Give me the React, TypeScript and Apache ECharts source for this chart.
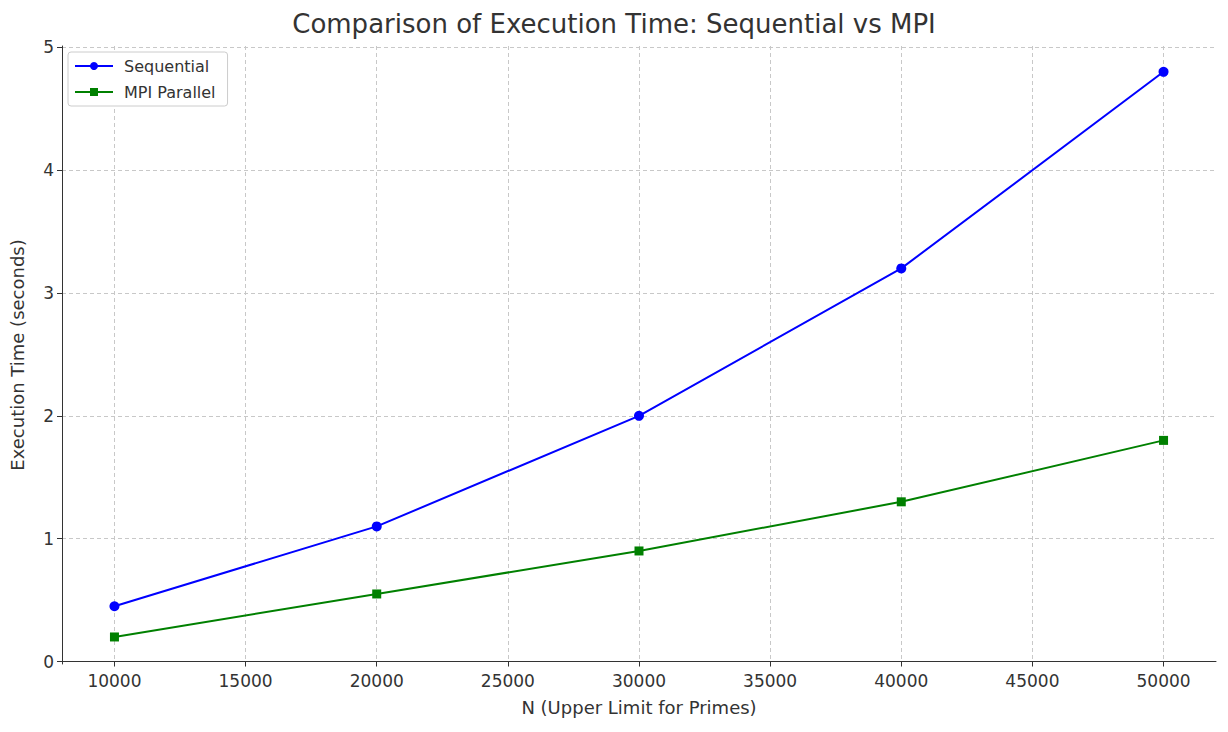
import * as echarts from "echarts";
import { useEffect, useRef } from "react";

const nValues = [10000, 20000, 30000, 40000, 50000];
const sequential = [0.45, 1.1, 2.0, 3.2, 4.8];
const mpiParallel = [0.2, 0.55, 0.9, 1.3, 1.8];
const xTicks = [10000, 15000, 20000, 25000, 30000, 35000, 40000, 45000, 50000];
const yTicks = [0, 1, 2, 3, 4, 5];

const font = "DejaVu Sans";
const gridLine = { show: true, lineStyle: { color: "#c8c8c8", type: [4, 3] as number[], width: 1 } };

const App = () => {
	const chartRef = useRef<HTMLDivElement>(null);

	useEffect(() => {
		const chart = echarts.init(chartRef.current!, null, { renderer: "svg" });
		chart.setOption({
			animation: false,
			textStyle: { fontFamily: font },
			title: {
				text: "Comparison of Execution Time: Sequential vs MPI",
				left: "center",
				top: 6,
				textStyle: { fontSize: 26, fontWeight: "normal", color: "#333", fontFamily: font }
			},
			legend: {
				left: 68,
				top: 52,
				orient: "vertical",
				backgroundColor: "#fff",
				borderColor: "#ccc",
				borderWidth: 1,
				borderRadius: 3,
				padding: [6, 12, 6, 6],
				itemGap: 10,
				itemWidth: 38,
				itemHeight: 10,
				textStyle: { fontSize: 16, color: "#333", padding: [0, 0, 0, 6] },
				data: ["Sequential", "MPI Parallel"]
			},
			grid: { left: 58, right: 12, top: 46, bottom: 68 },
			xAxis: {
				type: "value",
				min: 8000,
				max: 52000,
				name: "N (Upper Limit for Primes)",
				nameLocation: "middle",
				nameGap: 34,
				nameTextStyle: { fontSize: 18, color: "#333" },
				axisLine: { show: true, lineStyle: { color: "#333" } },
				axisTick: { show: true, customValues: xTicks, length: 5, lineStyle: { color: "#333" } },
				axisLabel: { customValues: xTicks, formatter: (v: number) => String(v), fontSize: 17, color: "#333", margin: 8 },
				splitLine: gridLine
			},
			yAxis: {
				type: "value",
				min: -0.02,
				max: 5.01,
				name: "Execution Time (seconds)",
				nameLocation: "middle",
				nameGap: 36,
				nameTextStyle: { fontSize: 18, color: "#333" },
				axisLine: { show: true, lineStyle: { color: "#333" } },
				axisTick: { show: true, customValues: yTicks, length: 5, lineStyle: { color: "#333" } },
				axisLabel: { customValues: yTicks, fontSize: 17, color: "#333", margin: 8 },
				splitLine: gridLine
			},
			series: [
				{
					name: "Sequential",
					type: "line",
					data: nValues.map((n, i) => [n, sequential[i]]),
					color: "#0000ff",
					symbol: "circle",
					symbolSize: 10,
					lineStyle: { width: 2 }
				},
				{
					name: "MPI Parallel",
					type: "line",
					data: nValues.map((n, i) => [n, mpiParallel[i]]),
					color: "#008000",
					symbol: "rect",
					symbolSize: 9,
					lineStyle: { width: 2 }
				}
			]
		});
		return () => {
			chart.dispose();
		};
	}, []);

	return (
		<div
			ref={chartRef}
			style={{ position: "fixed", left: 0, top: 0, width: "1228px", height: "732px", background: "#fff" }}
		/>
	);
};

export default App;
